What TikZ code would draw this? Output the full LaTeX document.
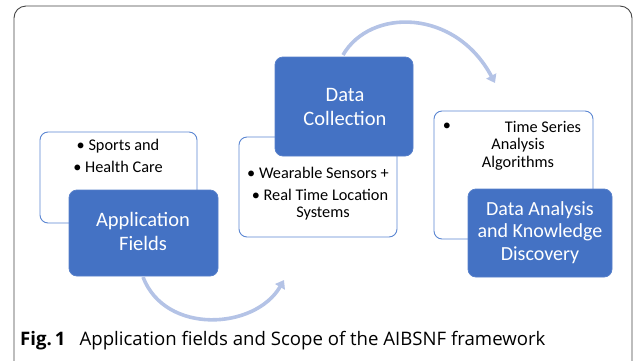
\documentclass[tikz,border=0pt]{standalone}
\usepackage{fontspec}
\setmainfont{Carlito}
\newfontfamily\capfont{Open Sans}
\usetikzlibrary{arrows.meta}
\definecolor{bluebox}{HTML}{4472C4}
\definecolor{lineblue}{HTML}{5B86D2}
\definecolor{arcblue}{HTML}{B4C3E6}
\definecolor{framegray}{HTML}{444444}
\begin{document}
\begin{tikzpicture}[x=1pt,y=-1pt,
  whitebox/.style={draw=lineblue,line width=0.9pt,fill=white,rounded corners=8pt},
  bluebox/.style={fill=bluebox,draw=bluebox!90!white,line width=0.8pt,rounded corners=8pt},
  btxt/.style={text=white,font=\fontsize{20.5}{22}\selectfont,inner sep=0pt},
  wtxt/.style={text=black,font=\fontsize{16.3}{18}\selectfont,inner sep=0pt},
  arc/.style={draw=arcblue,line width=3.6pt,-{Triangle[length=8pt,width=11pt]}}]
\useasboundingbox (0,0) rectangle (633,360);
\begin{scope}
\clip (0,0) rectangle (633,360);
\draw[framegray,line width=0.9pt,rounded corners=12pt] (14,6) rectangle (632,375);
\end{scope}
% application
\draw[whitebox] (40,132) rectangle (197,223);
\draw[bluebox] (69,190) rectangle (218,276);
\node[wtxt] (a1) at (118,146) {\textbullet\ Sports and};
\node[wtxt] (a2) at (118,167) {\textbullet\ Health Care};
\node[btxt] (a3) at (143,221) {Application};
\node[btxt] (a4) at (143,243) {Fields};
% data collection
\draw[whitebox] (239,137) rectangle (397,237);
\draw[bluebox] (275,57) rectangle (413,156);
\node[btxt] (d1) at (345,95) {Data};
\node[btxt] (d2) at (345,118) {Collection};
\node[wtxt] (d3) at (318,173) {\textbullet\ Wearable Sensors +};
\node[wtxt] (d4) at (320,195) {\textbullet\ Real Time Location};
\node[wtxt] (d5) at (323,214) {Systems};
% data analysis
\draw[whitebox] (434,111) rectangle (593,239);
\draw[bluebox] (468,189) rectangle (612,277);
\node[wtxt] (k0) at (447,127) {\textbullet};
\node[wtxt] (k1) at (543,127) {Time Series};
\node[wtxt] (k2) at (518,145) {Analysis};
\node[wtxt] (k3) at (518,163) {Algorithms};
\node[btxt,font=\fontsize{20}{22}\selectfont] (k4) at (540,210) {Data Analysis};
\node[btxt,font=\fontsize{20}{22}\selectfont] (k5) at (540,232) {and Knowledge};
\node[btxt,font=\fontsize{20}{22}\selectfont] (k6) at (540,255) {Discovery};
% arcs
\coordinate (t0) at (343,55);
\coordinate (t1) at (495,83);
\coordinate (b0) at (143,277);
\coordinate (b1) at (284,280);
\draw[arc] (t0) .. controls (370,8) and (455,8) .. (t1);
\draw[arc] (b0) .. controls (165,335) and (255,330) .. (b1);
% caption
\node[anchor=base west,inner sep=0pt,font=\capfont\fontsize{18.6}{22}\selectfont] (cap) at (20,345)
  {\textbf{Fig.\,1}\hspace{14pt}Application fields and Scope of the AIBSNF framework};
\end{tikzpicture}
\end{document}
